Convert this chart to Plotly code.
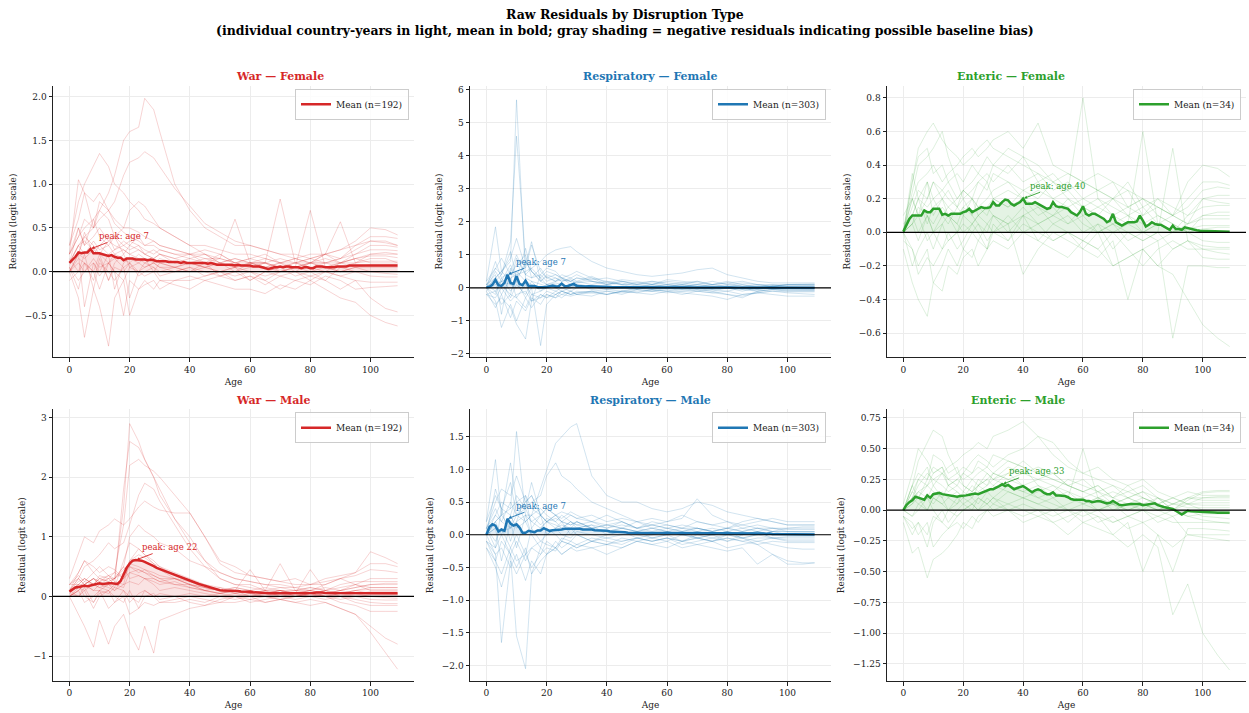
import numpy as np
import plotly.graph_objects as go

AGES = list(range(110))
# coarse age grid used for the individual (light) country-year curves
G = [0, 3, 5, 8, 10, 13, 15, 18, 20, 23, 25, 28, 30, 35, 40, 45, 50, 55, 60, 65, 70, 75, 80, 85, 90, 95, 100, 105, 109]

TYPES = ["War", "Respiratory", "Enteric"]
SEXES = ["Female", "Male"]
COLORS = {"War": (214, 39, 40), "Respiratory": (31, 119, 180), "Enteric": (44, 160, 44)}
LIGHT_ALPHA = {"War": 0.25, "Respiratory": 0.25, "Enteric": 0.2}
N_OBS = {"War": 192, "Respiratory": 303, "Enteric": 34}

X_TICKS = [0, 20, 40, 60, 80, 100]
Y_TICKS = {
    ("War", "Female"): [-0.5, 0.0, 0.5, 1.0, 1.5, 2.0],
    ("Respiratory", "Female"): [-2, -1, 0, 1, 2, 3, 4, 5, 6],
    ("Enteric", "Female"): [-0.6, -0.4, -0.2, 0.0, 0.2, 0.4, 0.6, 0.8],
    ("War", "Male"): [-1, 0, 1, 2, 3],
    ("Respiratory", "Male"): [-2.0, -1.5, -1.0, -0.5, 0.0, 0.5, 1.0, 1.5],
    ("Enteric", "Male"): [-1.25, -1.0, -0.75, -0.5, -0.25, 0.0, 0.25, 0.5, 0.75],
}
Y_FMT = {("War", "Female"): ".1f", ("Respiratory", "Female"): "d", ("Enteric", "Female"): ".1f",
         ("War", "Male"): "d", ("Respiratory", "Male"): ".1f", ("Enteric", "Male"): ".2f"}
Y_RANGE = {("War", "Female"): [-0.98, 2.125], ("Respiratory", "Female"): [-2.11, 6.13],
           ("Enteric", "Female"): [-0.745, 0.873], ("War", "Male"): [-1.42, 3.14],
           ("Respiratory", "Male"): [-2.24, 1.92], ("Enteric", "Male"): [-1.39, 0.82]}

# ---------------- mean curves (ages 0..109) ----------------
MEAN_WAR_F = [0.10, 0.13, 0.17, 0.22, 0.21, 0.22, 0.22, 0.26, 0.21, 0.21,
              0.21, 0.20, 0.19, 0.18, 0.19, 0.17, 0.16, 0.16, 0.13, 0.15,
              0.15, 0.15, 0.14, 0.14, 0.14, 0.14, 0.13, 0.14, 0.13, 0.12,
              0.12, 0.12, 0.12, 0.11, 0.11, 0.11, 0.11, 0.10, 0.11, 0.10,
              0.10, 0.10, 0.10, 0.10, 0.10, 0.10, 0.09, 0.10, 0.09, 0.08,
              0.08, 0.08, 0.08, 0.08, 0.08, 0.07, 0.08, 0.07, 0.07, 0.07,
              0.07, 0.06, 0.06, 0.06, 0.05, 0.04, 0.03, 0.04, 0.05, 0.05,
              0.06, 0.05, 0.06, 0.06, 0.05, 0.05, 0.05, 0.04, 0.05, 0.05,
              0.04, 0.04, 0.06, 0.06, 0.06, 0.05, 0.05, 0.05, 0.05, 0.06,
              0.06, 0.06, 0.06, 0.07, 0.07, 0.07, 0.07, 0.07, 0.07, 0.07,
              0.07, 0.07, 0.07, 0.07, 0.07, 0.07, 0.07, 0.07, 0.07, 0.07]
MEAN_RESP_F = [0.02, 0.03, 0.10, 0.24, 0.08, 0.06, 0.15, 0.40, 0.15, 0.12,
               0.35, 0.12, 0.08, 0.22, 0.06, 0.05, 0.06, 0.02, 0.01, 0.02,
               0.03, 0.05, 0.07, 0.04, 0.05, 0.13, 0.05, 0.06, 0.08, 0.12,
               0.06, 0.05, 0.05, 0.04, 0.05, 0.05, 0.04, 0.04, 0.03, 0.04,
               0.03, 0.03, 0.02, 0.03, 0.02, 0.02, 0.02, 0.02, 0.01, 0.02,
               0.02, 0.01, 0.02, 0.01, 0.01, 0.02, 0.01, 0.01, 0.01, 0.02,
               0.01, 0.01, 0.02, 0.01, 0.01, 0.01, 0.00, 0.01, 0.01, 0.01,
               0.01, 0.02, 0.01, 0.01, 0.01, 0.00, 0.01, 0.01, 0.01, 0.01,
               0.01, 0.01, 0.01, 0.00, 0.01, 0.01, 0.01, 0.01, 0.00, 0.01,
               0.01, 0.00, 0.01, 0.01, 0.00, 0.01, 0.01, 0.01, 0.01, 0.01,
               0.01, 0.01, 0.01, 0.01, 0.00, 0.00, 0.00, 0.00, 0.00, 0.00]
MEAN_ENT_F = [0.004, 0.04, 0.08, 0.10, 0.10, 0.10, 0.10, 0.13, 0.12, 0.12,
              0.14, 0.14, 0.14, 0.105, 0.11, 0.10, 0.11, 0.11, 0.11, 0.11,
              0.12, 0.125, 0.14, 0.12, 0.13, 0.14, 0.15, 0.145, 0.145, 0.15,
              0.18, 0.16, 0.16, 0.18, 0.195, 0.19, 0.17, 0.16, 0.17, 0.18,
              0.20, 0.17, 0.17, 0.17, 0.18, 0.17, 0.16, 0.15, 0.14, 0.145,
              0.18, 0.155, 0.15, 0.15, 0.145, 0.14, 0.12, 0.11, 0.10, 0.12,
              0.155, 0.11, 0.10, 0.11, 0.11, 0.10, 0.09, 0.08, 0.06, 0.07,
              0.11, 0.06, 0.05, 0.04, 0.05, 0.06, 0.06, 0.06, 0.065, 0.10,
              0.07, 0.035, 0.045, 0.06, 0.05, 0.045, 0.045, 0.035, 0.025, 0.015,
              0.04, 0.02, 0.02, 0.015, 0.03, 0.025, 0.018, 0.014, 0.012, 0.010,
              0.009, 0.008, 0.007, 0.006, 0.006, 0.005, 0.005, 0.004, 0.004, 0.004]
MEAN_WAR_M = [0.08, 0.12, 0.15, 0.16, 0.17, 0.18, 0.17, 0.18, 0.19, 0.21,
              0.22, 0.21, 0.22, 0.22, 0.22, 0.22, 0.21, 0.26, 0.37, 0.48,
              0.55, 0.60, 0.61, 0.61, 0.60, 0.58, 0.56, 0.53, 0.51, 0.48,
              0.46, 0.44, 0.42, 0.40, 0.38, 0.36, 0.34, 0.32, 0.30, 0.28,
              0.26, 0.245, 0.23, 0.21, 0.195, 0.18, 0.16, 0.145, 0.13, 0.12,
              0.105, 0.10, 0.10, 0.10, 0.095, 0.09, 0.09, 0.085, 0.085, 0.08,
              0.08, 0.07, 0.07, 0.065, 0.06, 0.06, 0.055, 0.05, 0.055, 0.055,
              0.055, 0.05, 0.05, 0.05, 0.055, 0.05, 0.05, 0.05, 0.055, 0.055,
              0.06, 0.06, 0.065, 0.07, 0.065, 0.06, 0.06, 0.06, 0.055, 0.055,
              0.05, 0.05, 0.055, 0.05, 0.055, 0.06, 0.055, 0.055, 0.055, 0.055,
              0.055, 0.055, 0.055, 0.055, 0.055, 0.055, 0.055, 0.055, 0.055, 0.055]
MEAN_RESP_M = [0.00, 0.12, 0.16, 0.14, 0.05, 0.08, 0.06, 0.245, 0.17, 0.14,
               0.16, 0.11, 0.03, 0.03, 0.06, 0.05, 0.04, 0.065, 0.065, 0.10,
               0.08, 0.06, 0.07, 0.07, 0.08, 0.08, 0.09, 0.09, 0.09, 0.09,
               0.10, 0.09, 0.08, 0.08, 0.09, 0.08, 0.07, 0.07, 0.07, 0.06,
               0.06, 0.05, 0.05, 0.05, 0.04, 0.05, 0.04, 0.03, 0.03, 0.03,
               0.02, 0.02, 0.02, 0.02, 0.02, 0.02, 0.02, 0.02, 0.02, 0.02,
               0.02, 0.02, 0.02, 0.02, 0.02, 0.02, 0.02, 0.02, 0.02, 0.02,
               0.02, 0.02, 0.02, 0.02, 0.02, 0.02, 0.02, 0.02, 0.02, 0.02,
               0.02, 0.02, 0.02, 0.02, 0.02, 0.02, 0.02, 0.02, 0.02, 0.02,
               0.02, 0.02, 0.02, 0.01, 0.02, 0.01, 0.01, 0.01, 0.01, 0.01,
               0.01, 0.01, 0.01, 0.01, 0.01, 0.01, 0.005, 0.005, 0.005, 0.005]
MEAN_ENT_M = [0.0, 0.04, 0.065, 0.08, 0.11, 0.10, 0.09, 0.085, 0.12, 0.10,
              0.13, 0.135, 0.14, 0.13, 0.125, 0.12, 0.12, 0.115, 0.11, 0.115,
              0.115, 0.12, 0.125, 0.13, 0.135, 0.13, 0.14, 0.155, 0.16, 0.17,
              0.17, 0.18, 0.195, 0.21, 0.195, 0.205, 0.19, 0.17, 0.18, 0.19,
              0.195, 0.18, 0.16, 0.145, 0.16, 0.17, 0.16, 0.14, 0.13, 0.13,
              0.145, 0.12, 0.12, 0.12, 0.115, 0.105, 0.09, 0.085, 0.085, 0.085,
              0.085, 0.075, 0.075, 0.065, 0.07, 0.075, 0.07, 0.065, 0.055, 0.06,
              0.075, 0.06, 0.045, 0.04, 0.045, 0.05, 0.05, 0.05, 0.05, 0.05,
              0.04, 0.045, 0.05, 0.055, 0.055, 0.04, 0.03, 0.025, 0.02, 0.015,
              0.01, -0.005, -0.02, -0.035, -0.02, -0.005, -0.01, -0.012, -0.014, -0.016,
              -0.017, -0.018, -0.019, -0.02, -0.02, -0.021, -0.021, -0.022, -0.022, -0.022]

# ---------------- individual country-year curves (values on grid G) ----------------
LINES_WAR_F = [
    [0.2, 0.4, 0.5, 0.6, 0.7, 0.9, 1.1, 1.5, 1.6, 1.65, 1.98, 1.85, 1.6, 1.0, 0.7, 0.5, 0.4, 0.3, 0.3, 0.25, 0.2, 0.2, 0.15, 0.2, 0.25, 0.3, 0.35, 0.35, 0.3],
    [0.3, 0.8, 1.0, 1.2, 1.35, 1.2, 1.0, 0.9, 0.8, 0.7, 0.6, 0.55, 0.5, 0.4, 0.3, 0.2, 0.15, 0.1, 0.1, 0.1, 0.05, 0.05, 0.1, 0.1, 0.1, 0.1, 0.15, 0.15, 0.1],
    [0.1, 0.3, 0.4, 0.5, 0.6, 0.7, 0.8, 1.1, 1.25, 1.3, 1.37, 1.3, 1.2, 0.95, 0.75, 0.55, 0.45, 0.35, 0.3, 0.25, 0.2, 0.15, 0.2, 0.2, 0.25, 0.35, 0.5, 0.48, 0.42],
    [0.2, 1.05, 0.9, 0.8, 0.9, 0.7, 0.6, 0.5, 0.5, 0.45, 0.4, 0.35, 0.3, 0.25, 0.2, 0.2, 0.1, 0.05, 0.1, 0.15, 0.1, 0.1, 0.05, 0.1, 0.15, 0.2, 0.3, 0.3, 0.28],
    [0.0, -0.3, -0.75, -0.2, -0.4, -0.85, -0.3, -0.1, -0.5, -0.2, -0.1, -0.2, -0.1, -0.15, -0.2, -0.1, -0.15, -0.2, -0.2, -0.25, -0.15, -0.2, -0.1, -0.2, -0.3, -0.35, -0.5, -0.58, -0.62],
    [0.1, 0.5, 0.3, 0.6, 0.4, 0.3, 0.4, 0.2, 0.3, 0.25, 0.2, 0.15, 0.2, 0.1, 0.15, 0.1, 0.2, 0.1, 0.05, 0.1, 0.83, 0.1, 0.15, 0.1, 0.05, 0.1, 0.2, 0.22, 0.2],
    [0.0, 0.2, 0.4, 0.3, 0.2, 0.35, 0.3, 0.25, 0.2, 0.15, 0.1, 0.15, 0.1, 0.05, 0.1, 0.05, 0.0, -0.05, 0.0, -0.1, 0.0, 0.05, 0.7, 0.05, 0.1, 0.15, 0.18, 0.18, 0.16],
    [0.15, 0.0, 0.2, -0.2, 0.1, 0.0, -0.1, 0.05, -0.3, 0.0, -0.05, 0.0, -0.1, -0.1, -0.05, -0.1, -0.05, -0.1, -0.05, -0.15, -0.05, -0.1, -0.15, -0.05, -0.1, -0.2, -0.18, -0.17, -0.16],
    [0.1, 0.3, 0.35, 0.25, 0.3, 0.2, 0.25, 0.3, 0.35, 0.3, 0.25, 0.2, 0.25, 0.2, 0.15, 0.2, 0.1, 0.15, 0.1, 0.05, 0.1, 0.0, 0.1, 0.2, 0.57, 0.1, 0.12, 0.12, 0.12],
    [0.05, -0.1, 0.0, 0.1, -0.05, 0.1, 0.0, -0.1, 0.05, 0.0, 0.1, 0.05, 0.0, 0.05, 0.0, 0.05, 0.0, 0.05, 0.0, -0.05, 0.0, 0.0, -0.05, 0.0, -0.05, -0.1, -0.3, -0.42, -0.46],
    [0.2, 0.4, 0.6, 0.5, 0.8, 0.7, 0.55, 0.45, 0.4, 0.35, 0.3, 0.3, 0.25, 0.2, 0.2, 0.15, 0.15, 0.6, 0.1, 0.1, 0.15, 0.1, 0.1, 0.15, 0.1, 0.2, 0.25, 0.25, 0.24],
    [0.0, 0.2, -0.4, 0.1, 0.0, 0.2, -0.2, 0.1, 0.15, 0.1, 0.05, 0.1, 0.05, 0.05, 0.0, 0.1, -0.05, 0.0, 0.1, 0.05, 0.0, 0.05, 0.0, 0.05, 0.0, 0.05, 0.05, 0.05, 0.05],
    [0.3, 0.6, 0.9, 0.5, 0.7, 0.6, 0.4, 0.5, 0.7, 0.8, 0.75, 0.6, 0.5, 0.4, 0.3, 0.3, 0.25, 0.2, 0.2, 0.15, 0.1, 0.15, 0.1, 0.1, 0.15, 0.25, 0.35, 0.33, 0.3],
    [-0.1, 0.0, 0.1, 0.0, -0.2, 0.1, 0.0, -0.5, -0.1, -0.2, -0.15, -0.1, -0.2, -0.1, -0.1, -0.05, 0.0, -0.1, -0.05, -0.1, -0.2, -0.1, -0.05, -0.1, -0.2, -0.1, -0.12, -0.12, -0.12],
    [0.1, 0.2, 0.15, 0.25, 0.2, 0.1, 0.2, 0.15, 0.1, 0.2, 0.15, 0.1, 0.15, 0.1, 0.1, 0.05, 0.1, 0.15, 0.1, 0.1, 0.05, 0.1, 0.05, 0.0, 0.1, 0.05, 0.0, -0.02, -0.03],
    [0.1, 0.3, 0.2, 0.35, 0.25, 0.3, 0.2, 0.25, 0.2, 0.25, 0.2, 0.15, 0.2, 0.15, 0.1, 0.15, 0.1, 0.05, 0.1, 0.05, 0.1, 0.05, 0.1, 0.05, 0.1, 0.15, 0.2, 0.2, 0.2],
    [0.0, 0.1, 0.0, 0.15, 0.05, 0.1, 0.15, 0.05, 0.1, 0.0, 0.05, 0.1, 0.05, 0.0, 0.05, 0.0, -0.05, 0.0, -0.1, 0.0, -0.05, 0.0, -0.1, 0.0, -0.05, 0.0, 0.0, 0.0, 0.0],
    [0.2, 0.5, 0.3, 0.4, 0.5, 0.35, 0.4, 0.3, 0.25, 0.3, 0.2, 0.25, 0.2, 0.15, 0.2, 0.1, 0.15, 0.1, 0.15, 0.1, 0.05, 0.1, 0.15, 0.2, 0.1, 0.15, 0.1, 0.1, 0.1],
    [0.05, -0.2, 0.1, -0.1, 0.15, -0.1, 0.05, 0.0, 0.1, -0.05, 0.0, 0.05, -0.05, 0.0, 0.05, -0.05, 0.0, 0.05, -0.1, 0.0, 0.05, -0.05, 0.0, -0.1, 0.05, 0.0, -0.05, -0.06, -0.06],
    [0.1, 0.2, 0.45, 0.2, 0.3, 0.4, 0.25, 0.35, 0.3, 0.4, 0.3, 0.35, 0.3, 0.25, 0.2, 0.25, 0.2, 0.1, 0.15, 0.2, 0.1, 0.15, 0.1, 0.2, 0.15, 0.3, 0.4, 0.4, 0.38],
    [0.0, 0.15, 0.1, 0.0, 0.2, -0.1, 0.1, 0.2, 0.05, 0.1, 0.15, 0.0, 0.1, 0.05, 0.1, 0.05, 0.1, 0.0, 0.05, 0.1, 0.0, 0.05, 0.1, 0.05, 0.0, 0.05, 0.08, 0.08, 0.08],
]
LINES_RESP_F = [
    [0.1, 0.3, 0.5, 0.8, 5.7, 0.3, 0.2, 0.1, 0.05, 0.1, 0.0, 0.05, 0.1, 0.05, 0.0, 0.05, 0.0, 0.05, 0.0, 0.05, 0.0, 0.0, 0.05, 0.0, 0.0, 0.05, 0.03, 0.03, 0.03],
    [0.0, 0.2, 0.4, 1.4, 4.6, 0.8, 0.5, 0.2, 0.1, 0.15, 0.1, 0.05, 0.1, 0.05, 0.05, 0.0, 0.05, 0.0, 0.0, 0.05, 0.0, 0.05, 0.0, 0.0, -0.05, 0.0, -0.02, -0.02, -0.02],
    [0.2, 1.85, 0.5, 0.9, 1.5, 0.6, 1.3, 0.5, 0.3, 0.4, 0.3, 0.2, 0.3, 0.2, 0.15, 0.1, 0.1, 0.05, 0.1, 0.05, 0.1, 0.05, 0.1, 0.05, 0.1, 0.05, 0.1, 0.12, 0.12],
    [0.0, 0.1, 0.2, 0.3, 0.4, 0.5, 0.6, 0.8, 1.0, 1.15, 1.2, 1.25, 1.1, 0.8, 0.6, 0.5, 0.4, 0.35, 0.4, 0.45, 0.55, 0.6, 0.4, 0.3, 0.2, 0.15, 0.15, 0.15, 0.15],
    [-0.2, -0.5, -0.3, -0.6, -1.1, -1.55, -0.4, -0.3, -0.2, -0.3, -0.2, -0.25, -0.2, -0.15, -0.1, -0.15, -0.1, -0.1, -0.05, -0.1, -0.1, -0.15, -0.1, -0.2, -0.15, -0.1, -0.15, -0.18, -0.2],
    [0.0, -0.2, 0.3, -0.1, 0.2, -0.3, 0.0, -1.75, -0.5, -0.2, -0.1, -0.2, -0.15, -0.1, -0.2, -0.1, -0.15, -0.05, -0.1, -0.15, -0.2, -0.25, -0.35, -0.2, -0.15, -0.2, -0.25, -0.25, -0.25],
    [0.1, 0.4, -0.8, 0.6, 0.2, 0.8, 0.5, 0.3, 0.1, 0.2, 0.3, 0.1, 0.2, 0.1, 0.2, 0.1, 0.0, 0.1, 0.05, 0.1, 0.2, 0.1, 0.15, 0.05, 0.0, 0.05, 0.1, 0.1, 0.1],
    [0.0, -0.4, -1.2, -0.5, -1.0, -0.3, -0.6, -0.2, -0.3, -0.1, -0.2, -0.1, -0.2, -0.1, -0.2, -0.1, -0.05, -0.1, 0.0, -0.05, 0.0, -0.05, -0.1, 0.0, -0.1, -0.05, -0.08, -0.08, -0.08],
    [0.2, 0.6, 0.4, 1.1, 0.3, 0.7, 1.4, 0.2, 0.4, 0.3, 0.2, 0.3, 0.4, 0.2, 0.1, 0.2, 0.1, 0.15, 0.1, 0.05, 0.1, 0.2, 0.1, 0.15, 0.1, 0.1, 0.08, 0.08, 0.08],
    [0.0, 0.3, 0.1, -0.2, 0.5, 0.2, -0.4, 0.4, 0.6, 0.5, 0.3, 0.4, 0.5, 0.3, 0.2, 0.1, 0.15, 0.1, 0.2, 0.15, 0.1, 0.05, 0.0, -0.1, 0.0, 0.05, 0.0, 0.0, 0.0],
    [0.1, 0.0, 0.2, 0.1, 0.0, 0.2, 0.1, 0.0, 0.1, 0.05, 0.1, 0.0, 0.05, 0.0, 0.05, 0.0, 0.05, 0.0, 0.0, 0.05, 0.0, -0.05, 0.0, 0.0, -0.05, 0.0, 0.0, 0.0, 0.0],
    [-0.1, 0.2, -0.2, 0.3, -0.3, 0.1, -0.2, -0.1, 0.0, -0.1, 0.0, -0.1, 0.0, 0.05, -0.05, 0.0, -0.05, 0.05, 0.0, -0.05, 0.0, 0.0, 0.05, 0.0, 0.05, 0.0, 0.02, 0.02, 0.02],
    [0.0, 0.8, 0.3, 0.5, 1.0, 0.4, 0.3, 0.6, 0.3, 0.2, 0.25, 0.2, 0.15, 0.3, 0.1, 0.2, 0.1, 0.2, 0.15, 0.1, 0.05, 0.1, 0.2, 0.1, 0.05, 0.1, 0.05, 0.05, 0.05],
    [-0.2, -0.1, -0.5, -0.2, -0.3, -0.6, -0.2, -0.3, -0.1, -0.2, -0.3, -0.1, -0.2, -0.25, -0.1, -0.2, -0.05, -0.1, -0.15, -0.1, -0.05, -0.1, -0.2, -0.3, -0.1, -0.05, -0.1, -0.1, -0.1],
    [0.1, 0.6, 0.9, 0.4, 0.7, 1.0, 0.3, 0.4, 0.2, 0.3, 0.2, 0.25, 0.15, 0.2, 0.1, 0.15, 0.05, 0.1, 0.05, 0.1, 0.05, 0.0, 0.05, 0.0, 0.05, 0.0, 0.02, 0.02, 0.02],
    [-0.1, -0.6, -0.2, -0.9, -0.4, -0.7, -0.3, -0.5, -0.2, -0.3, -0.1, -0.2, -0.15, -0.1, -0.05, -0.1, 0.0, -0.05, -0.1, 0.0, -0.05, -0.1, 0.0, -0.05, -0.1, -0.05, -0.05, -0.06, -0.06],
    [0.0, 0.3, 0.5, 0.2, 0.9, 0.4, 0.6, 0.3, 0.5, 0.4, 0.3, 0.2, 0.3, 0.25, 0.3, 0.2, 0.15, 0.2, 0.1, 0.15, 0.2, 0.1, 0.05, 0.1, 0.0, 0.05, 0.06, 0.06, 0.06],
    [0.1, -0.1, 0.2, -0.3, 0.1, -0.2, 0.2, -0.1, 0.1, 0.0, -0.1, 0.0, 0.1, -0.05, 0.0, 0.05, 0.0, -0.05, 0.05, 0.0, -0.1, 0.0, 0.05, -0.05, 0.0, 0.05, 0.0, 0.0, 0.0],
    [0.0, 0.5, 0.2, 0.7, 0.3, 1.2, 0.5, 0.2, 0.35, 0.2, 0.4, 0.3, 0.2, 0.35, 0.15, 0.25, 0.2, 0.1, 0.25, 0.2, 0.15, 0.1, 0.15, 0.2, 0.1, 0.05, 0.1, 0.1, 0.1],
    [-0.2, -0.3, 0.0, -0.4, -0.2, -0.1, -0.4, -0.2, -0.3, -0.2, -0.1, -0.2, -0.1, -0.15, -0.2, -0.1, -0.15, -0.2, -0.1, -0.2, -0.1, -0.15, -0.2, -0.25, -0.15, -0.1, -0.12, -0.12, -0.12],
]
LINES_ENT_F = [
    [0.0, 0.3, 0.5, 0.6, 0.65, 0.55, 0.5, 0.45, 0.4, 0.45, 0.5, 0.55, 0.5, 0.45, 0.4, 0.35, 0.3, 0.25, 0.3, 0.25, 0.2, 0.15, 0.2, 0.15, 0.1, 0.3, 0.4, 0.38, 0.33],
    [0.0, 0.2, 0.3, 0.35, 0.4, 0.3, 0.35, 0.4, 0.45, 0.5, 0.45, 0.5, 0.55, 0.6, 0.5, 0.65, 0.4, 0.35, 0.3, 0.35, 0.3, 0.25, 0.2, 0.15, 0.1, 0.15, 0.25, 0.27, 0.26],
    [-0.1, -0.3, -0.4, -0.5, -0.3, -0.35, -0.2, -0.25, -0.15, -0.1, -0.2, -0.1, -0.05, -0.1, 0.0, -0.05, -0.1, -0.15, -0.05, -0.1, -0.2, -0.15, -0.1, -0.2, -0.25, -0.4, -0.55, -0.63, -0.68],
    [0.05, 0.1, 0.2, 0.15, 0.2, 0.25, 0.3, 0.2, 0.25, 0.3, 0.35, 0.3, 0.4, 0.35, 0.45, 0.3, 0.35, 0.25, 0.8, 0.2, 0.15, 0.1, 0.05, 0.1, 0.05, 0.0, 0.1, 0.12, 0.12],
    [0.0, -0.2, -0.1, 0.0, -0.1, 0.05, -0.05, 0.0, 0.05, 0.0, -0.05, 0.05, 0.0, 0.05, -0.25, -0.1, 0.0, -0.05, -0.1, 0.0, -0.2, -0.15, -0.1, -0.05, -0.63, -0.2, -0.2, -0.21, -0.21],
    [0.0, 0.15, 0.25, 0.2, 0.3, 0.2, 0.15, 0.2, 0.25, 0.2, 0.15, 0.2, 0.25, 0.3, 0.2, 0.25, 0.2, 0.15, 0.2, 0.15, 0.1, 0.05, 0.6, 0.05, 0.0, 0.05, 0.2, 0.22, 0.22],
    [0.0, 0.05, 0.1, -0.05, 0.0, -0.1, -0.05, 0.0, 0.1, 0.05, 0.1, 0.15, 0.1, 0.05, 0.1, 0.05, 0.1, 0.15, 0.05, 0.0, 0.05, 0.0, -0.05, 0.0, 0.5, -0.05, -0.1, -0.12, -0.13],
    [0.1, 0.2, 0.1, 0.3, 0.2, 0.1, 0.15, 0.1, 0.15, 0.2, 0.1, 0.15, 0.2, 0.25, 0.2, 0.15, 0.1, 0.2, 0.15, 0.1, 0.2, 0.25, 0.1, 0.15, 0.1, 0.05, 0.08, 0.08, 0.08],
    [-0.05, -0.1, -0.2, -0.1, -0.3, -0.2, -0.1, -0.2, -0.1, -0.15, -0.05, -0.1, 0.0, -0.05, 0.05, 0.0, -0.05, 0.0, -0.1, -0.15, -0.05, -0.4, -0.1, -0.2, -0.1, -0.05, -0.15, -0.16, -0.16],
    [0.0, 0.35, 0.2, 0.3, 0.1, 0.2, 0.25, 0.15, 0.2, 0.1, 0.2, 0.3, 0.2, 0.15, 0.25, 0.2, 0.3, 0.2, 0.1, 0.15, 0.2, 0.1, 0.15, 0.05, 0.0, 0.1, 0.15, 0.16, 0.16],
    [0.0, 0.1, 0.0, 0.1, 0.05, 0.15, 0.1, 0.05, 0.0, 0.05, 0.1, 0.05, 0.1, 0.0, 0.1, 0.15, 0.05, 0.1, 0.0, 0.05, 0.0, 0.05, 0.0, -0.05, 0.0, 0.0, 0.02, 0.03, 0.03],
    [0.0, 0.25, 0.4, 0.45, 0.5, 0.6, 0.45, 0.3, 0.2, 0.25, 0.3, 0.35, 0.3, 0.4, 0.3, 0.35, 0.25, 0.3, 0.2, 0.25, 0.3, 0.15, 0.1, 0.2, 0.15, 0.1, 0.2, 0.18, 0.17],
    [0.0, 0.2, 0.1, 0.2, 0.3, 0.25, 0.2, 0.15, 0.25, 0.2, 0.3, 0.25, 0.35, 0.3, 0.25, 0.3, 0.2, 0.25, 0.15, 0.2, 0.1, 0.15, 0.2, 0.1, 0.05, 0.0, -0.05, -0.06, -0.06],
    [0.0, 0.05, 0.15, 0.1, 0.0, 0.1, 0.05, 0.15, 0.1, 0.2, 0.15, 0.1, 0.2, 0.15, 0.2, 0.1, 0.15, 0.05, 0.1, 0.0, 0.05, -0.05, 0.0, 0.05, 0.1, 0.05, 0.1, 0.1, 0.1],
    [0.0, -0.1, -0.25, -0.15, -0.2, -0.1, 0.0, -0.1, -0.05, 0.05, 0.0, -0.1, 0.05, -0.05, 0.1, -0.05, 0.05, 0.0, -0.05, -0.1, 0.0, -0.1, -0.2, -0.1, -0.05, -0.1, -0.1, -0.1, -0.1],
    [0.0, 0.3, 0.45, 0.5, 0.35, 0.4, 0.3, 0.35, 0.3, 0.4, 0.35, 0.45, 0.4, 0.5, 0.45, 0.4, 0.3, 0.35, 0.3, 0.25, 0.2, 0.3, 0.15, 0.2, 0.1, 0.2, 0.3, 0.3, 0.28],
    [0.0, 0.1, 0.2, 0.05, 0.15, 0.2, 0.1, 0.05, 0.15, 0.1, 0.05, 0.0, 0.1, 0.05, 0.15, 0.05, 0.1, 0.05, 0.15, 0.1, 0.05, 0.1, 0.0, 0.05, 0.0, 0.02, 0.04, 0.04, 0.04],
    [0.0, 0.05, -0.05, 0.1, 0.0, 0.05, 0.1, 0.0, -0.1, 0.0, 0.05, -0.05, 0.0, 0.1, 0.0, 0.05, -0.05, 0.0, -0.05, 0.05, -0.1, 0.0, -0.05, 0.0, -0.1, -0.05, -0.08, -0.09, -0.09],
]
LINES_WAR_M = [
    [0.1, 0.2, 0.3, 0.2, 0.3, 0.25, 0.3, 1.5, 2.9, 2.6, 2.3, 2.0, 1.8, 1.3, 0.9, 0.6, 0.4, 0.3, 0.25, 0.2, 0.15, 0.15, 0.2, 0.2, 0.3, 0.4, 0.75, 0.65, 0.55],
    [0.2, 0.3, 0.2, 0.3, 0.25, 0.3, 0.2, 1.8, 2.6, 2.5, 2.3, 2.0, 1.7, 1.3, 1.0, 0.6, 0.3, 0.2, 0.2, 0.1, 0.15, 0.1, 0.1, 0.15, 0.1, 0.2, 0.3, 0.3, 0.3],
    [0.1, 0.15, 0.2, 0.3, 0.2, 0.3, 0.4, 1.2, 2.2, 2.3, 2.2, 2.1, 2.0, 1.7, 1.4, 1.0, 0.6, 0.5, 0.35, 0.3, 0.25, 0.2, 0.2, 0.3, 0.35, 0.4, 0.55, 0.55, 0.5],
    [0.3, 0.7, 1.0, 0.9, 1.1, 1.2, 1.3, 1.2, 1.3, 1.5, 1.6, 1.5, 1.45, 1.4, 1.4, 1.0, 0.55, 0.4, 0.35, 0.3, 0.25, 0.3, 0.2, 0.25, 0.3, 0.35, 0.45, 0.43, 0.4],
    [0.1, 0.3, 0.5, 0.6, 0.7, 0.9, 0.8, 0.9, 1.2, 1.7, 1.9, 1.8, 1.6, 1.2, 0.8, 0.5, 0.3, 0.2, 0.15, 0.1, 0.1, 0.05, 0.1, 0.05, 0.1, 0.15, 0.2, 0.22, 0.22],
    [0.0, -0.3, -0.5, -0.85, -0.4, -0.8, -0.5, -0.3, -0.6, -0.9, -0.5, -0.95, -0.4, -0.3, -0.2, -0.15, -0.1, -0.1, -0.05, -0.1, -0.05, -0.1, -0.15, -0.1, -0.2, -0.3, -0.5, -0.7, -0.8],
    [0.1, 0.2, 0.0, -0.1, 0.1, -0.2, -0.1, 0.0, -0.3, -0.2, -0.1, -0.15, -0.1, -0.1, -0.05, -0.1, 0.0, -0.05, 0.0, -0.1, -0.05, -0.1, -0.05, -0.1, -0.2, -0.3, -0.6, -0.95, -1.22],
    [0.1, 0.4, 0.6, 0.5, 0.4, 0.5, 0.45, 0.3, 0.6, 0.8, 0.7, 0.6, 0.5, 0.35, 0.25, 0.15, 0.1, 0.05, 0.1, 0.05, 0.1, 0.05, 0.45, 0.1, 0.05, 0.1, 0.15, 0.15, 0.15],
    [0.2, 0.2, 0.3, 0.2, 0.35, 0.3, 0.3, 0.4, 0.5, 0.45, 0.4, 0.35, 0.3, 0.3, 0.25, 0.2, 0.15, 0.1, 0.45, 0.1, 0.55, 0.1, 0.15, 0.1, 0.2, 0.25, 0.25, 0.25, 0.25],
    [0.0, 0.1, 0.2, 0.1, 0.1, 0.2, 0.1, 0.2, 0.25, 0.2, 0.3, 0.2, 0.1, 0.15, 0.1, 0.05, 0.0, 0.05, 0.0, 0.05, 0.0, 0.05, 0.0, 0.05, 0.0, 0.05, 0.0, -0.02, -0.03],
    [0.1, 0.0, 0.1, -0.2, 0.0, 0.1, -0.1, 0.1, 0.0, -0.1, 0.1, 0.0, -0.1, -0.05, 0.0, -0.05, -0.1, 0.0, -0.05, 0.0, -0.05, 0.0, 0.05, 0.0, -0.1, -0.15, -0.25, -0.25, -0.25],
    [0.2, 0.4, 0.6, 0.4, 0.5, 0.35, 0.4, 0.3, 0.5, 0.4, 0.45, 0.35, 0.3, 0.2, 0.2, 0.15, 0.1, 0.15, 0.1, 0.15, 0.1, 0.1, 0.15, 0.1, 0.15, 0.2, 0.1, 0.1, 0.1],
    [0.1, 0.2, 0.2, 0.3, 0.2, 0.2, 0.3, 0.5, 1.0, 1.2, 1.1, 1.0, 0.9, 0.8, 0.6, 0.5, 0.4, 0.3, 0.25, 0.2, 0.2, 0.15, 0.1, 0.2, 0.3, 0.2, 0.15, 0.15, 0.15],
    [0.0, 0.1, -0.1, 0.0, 0.1, 0.05, 0.15, 0.1, -0.1, 0.05, 0.1, 0.0, 0.05, 0.0, 0.05, 0.0, 0.05, 0.1, 0.05, 0.0, 0.05, 0.0, 0.05, 0.1, 0.0, -0.05, -0.1, -0.12, -0.12],
    [0.1, 0.15, 0.25, 0.2, 0.15, 0.2, 0.15, 0.6, 0.9, 0.8, 0.7, 0.55, 0.5, 0.4, 0.3, 0.2, 0.1, 0.1, 0.05, 0.1, 0.05, 0.1, 0.05, 0.1, 0.05, 0.1, 0.05, 0.05, 0.05],
    [0.1, 0.25, 0.3, 0.2, 0.3, 0.25, 0.3, 0.45, 0.55, 0.5, 0.45, 0.4, 0.35, 0.3, 0.2, 0.15, 0.1, 0.15, 0.1, 0.05, 0.1, 0.05, 0.1, 0.05, 0.1, 0.15, 0.2, 0.2, 0.2],
    [0.0, 0.1, 0.2, 0.1, 0.2, 0.15, 0.1, 0.3, 0.4, 0.35, 0.3, 0.25, 0.2, 0.25, 0.15, 0.1, 0.05, 0.0, 0.05, 0.0, -0.05, 0.0, 0.05, 0.0, -0.05, 0.0, -0.05, -0.06, -0.06],
    [0.2, 0.35, 0.25, 0.4, 0.3, 0.35, 0.25, 0.2, 0.6, 0.7, 0.65, 0.55, 0.45, 0.3, 0.2, 0.1, 0.05, 0.1, 0.05, 0.1, 0.0, 0.05, 0.1, 0.0, 0.05, 0.1, 0.12, 0.12, 0.12],
    [0.05, 0.0, 0.15, -0.1, 0.05, 0.1, 0.0, -0.1, 0.1, -0.2, 0.0, 0.05, -0.05, 0.0, -0.1, -0.15, -0.05, 0.0, -0.1, -0.05, 0.0, -0.05, 0.0, -0.05, 0.0, -0.1, -0.15, -0.15, -0.15],
    [0.1, 0.3, 0.2, 0.3, 0.25, 0.35, 0.3, 0.5, 0.3, 0.35, 0.3, 0.3, 0.25, 0.3, 0.2, 0.1, 0.15, 0.05, 0.1, 0.05, 0.1, 0.05, 0.0, 0.05, 0.1, 0.05, 0.08, 0.08, 0.08],
    [0.0, 0.15, 0.1, 0.2, 0.15, 0.1, 0.2, 0.15, 0.4, 0.45, 0.4, 0.3, 0.25, 0.2, 0.15, 0.1, 0.05, 0.1, 0.0, 0.05, 0.1, 0.0, 0.05, 0.0, 0.05, 0.0, 0.03, 0.03, 0.03],
]
LINES_RESP_M = [
    [0.0, 0.1, 0.05, 0.1, 0.2, 0.3, 0.3, 0.7, 1.0, 1.4, 1.5, 1.65, 1.7, 0.9, 0.6, 0.5, 0.5, 0.4, 0.35, 0.4, 0.5, 0.45, 0.35, 0.3, 0.25, 0.2, 0.15, 0.15, 0.15],
    [0.0, 0.2, 0.3, 0.4, 0.5, 0.4, 0.5, 0.6, 0.9, 1.1, 0.9, 0.8, 0.7, 0.5, 0.4, 0.3, 0.2, 0.25, 0.2, 0.3, 0.2, 0.15, 0.2, 0.1, 0.15, 0.1, 0.1, 0.1, 0.1],
    [0.1, 0.3, 0.5, 0.4, 1.58, 0.3, 0.2, 0.1, 0.2, 0.1, 0.15, 0.1, 0.2, 0.1, 0.05, 0.1, 0.05, 0.1, 0.05, 0.0, 0.05, 0.0, 0.05, 0.0, 0.05, 0.1, 0.05, 0.05, 0.05],
    [0.2, 1.15, 0.3, 1.1, 0.5, 0.6, 0.4, 0.3, 0.2, 0.3, 0.2, 0.15, 0.2, 0.1, 0.15, 0.1, 0.2, 0.1, 0.15, 0.1, 0.1, 0.05, 0.1, 0.05, 0.1, 0.05, 0.1, 0.12, 0.12],
    [0.0, -0.3, -1.65, -0.4, -0.6, -0.3, -0.2, -0.1, -0.15, -0.2, -0.1, -0.15, -0.2, -0.1, -0.15, -0.1, -0.05, -0.1, -0.05, -0.1, -0.05, -0.1, -0.05, -0.1, -0.05, -0.05, -0.05, -0.05, -0.05],
    [-0.2, -0.5, -0.8, -0.3, -1.55, -2.05, -0.6, -0.4, -0.3, -0.2, -0.3, -0.2, -0.25, -0.2, -0.15, -0.2, -0.1, -0.15, -0.1, -0.2, -0.15, -0.2, -0.25, -0.2, -0.45, -0.3, -0.4, -0.43, -0.43],
    [0.1, 0.5, 0.7, 0.6, 0.9, 0.5, 0.6, 0.3, 0.4, 0.3, 0.35, 0.3, 0.25, 0.3, 0.2, 0.25, 0.2, 0.15, 0.2, 0.25, 0.55, 0.3, 0.2, 0.15, 0.2, 0.25, 0.2, 0.2, 0.2],
    [-0.1, -0.3, -0.2, -0.5, -0.3, -0.7, -0.4, -0.6, -0.3, -0.2, -0.3, -0.2, -0.15, -0.2, -0.3, -0.2, -0.1, -0.15, -0.2, -0.1, -0.15, -0.1, -0.2, -0.15, -0.1, -0.15, -0.2, -0.22, -0.22],
    [0.0, 0.2, 0.0, 0.3, 0.1, 0.2, 0.0, 0.1, 0.2, 0.15, 0.1, 0.2, 0.15, 0.1, 0.05, 0.1, 0.05, 0.0, 0.05, 0.1, 0.05, 0.0, 0.05, 0.1, 0.05, 0.0, 0.02, 0.02, 0.02],
    [0.1, -0.2, 0.4, -0.1, 0.2, 0.6, 0.1, 0.3, 0.0, 0.1, 0.2, 0.0, 0.1, 0.15, 0.0, 0.05, -0.05, 0.0, 0.05, 0.0, -0.05, 0.0, -0.1, 0.0, 0.05, -0.05, -0.1, -0.1, -0.1],
    [0.0, 0.1, -0.4, 0.2, -0.2, 0.3, 0.0, -0.2, 0.1, 0.0, -0.1, 0.1, 0.0, -0.1, 0.0, 0.05, 0.0, -0.05, 0.0, -0.1, 0.0, -0.05, 0.0, -0.05, 0.0, 0.05, 0.0, 0.0, 0.0],
    [0.2, 0.6, 0.4, 0.8, 0.3, 0.5, 0.6, 0.3, 0.2, 0.3, 0.25, 0.35, 0.3, 0.2, 0.3, 0.2, 0.1, 0.2, 0.15, 0.1, 0.2, 0.15, 0.1, 0.2, 0.25, 0.2, 0.15, 0.15, 0.15],
    [-0.2, -0.4, -0.1, -0.3, -0.5, -0.2, -0.6, -0.2, -0.3, -0.1, -0.2, -0.1, 0.0, -0.1, -0.05, -0.1, -0.05, -0.1, -0.05, -0.1, -0.05, -0.1, -0.05, -0.1, -0.15, -0.3, -0.45, -0.45, -0.43],
    [0.0, 0.3, 0.2, 0.1, 0.3, 0.2, 0.3, 0.4, 0.3, 0.2, 0.1, 0.2, 0.1, 0.15, 0.1, 0.2, 0.1, 0.15, 0.1, 0.05, 0.1, 0.05, 0.0, 0.05, 0.1, 0.05, 0.05, 0.05, 0.05],
    [0.1, 0.4, 0.2, 0.5, 0.3, 0.4, 0.2, 0.3, 0.2, 0.25, 0.2, 0.15, 0.2, 0.1, 0.15, 0.1, 0.05, 0.1, 0.05, 0.0, 0.05, 0.1, 0.05, 0.0, 0.05, 0.0, 0.02, 0.02, 0.02],
    [-0.1, -0.4, -0.6, -0.2, -0.4, -0.3, -0.5, -0.3, -0.2, -0.25, -0.1, -0.15, -0.2, -0.1, -0.15, -0.05, -0.1, -0.05, -0.1, 0.0, -0.05, -0.1, 0.0, -0.05, -0.1, -0.05, -0.08, -0.08, -0.08],
    [0.0, 0.2, 0.3, 0.1, 0.5, 0.2, 0.3, 0.15, 0.25, 0.2, 0.3, 0.2, 0.15, 0.2, 0.1, 0.15, 0.1, 0.05, 0.1, 0.05, 0.1, 0.05, 0.1, 0.05, 0.0, 0.05, 0.04, 0.04, 0.04],
    [0.1, -0.1, 0.1, -0.2, 0.0, -0.3, 0.1, -0.1, 0.0, 0.1, 0.0, -0.05, 0.05, 0.0, -0.05, 0.0, 0.05, -0.05, 0.0, 0.05, -0.05, 0.0, 0.05, -0.05, 0.0, -0.05, -0.03, -0.03, -0.03],
    [0.0, 0.7, 0.4, 0.3, 0.6, 0.4, 0.8, 0.3, 0.4, 0.3, 0.2, 0.3, 0.25, 0.2, 0.15, 0.2, 0.1, 0.15, 0.1, 0.15, 0.1, 0.05, 0.1, 0.15, 0.1, 0.1, 0.08, 0.08, 0.08],
    [-0.1, -0.2, 0.0, -0.3, -0.1, -0.4, -0.2, -0.3, -0.1, -0.2, -0.05, -0.1, -0.15, -0.05, -0.1, -0.15, -0.05, -0.1, -0.05, -0.15, -0.1, -0.05, -0.1, -0.05, -0.15, -0.1, -0.12, -0.12, -0.12],
]
LINES_ENT_M = [
    [0.0, 0.2, 0.4, 0.55, 0.65, 0.6, 0.45, 0.3, 0.25, 0.3, 0.35, 0.3, 0.25, 0.3, 0.4, 0.3, 0.25, 0.2, 0.15, 0.2, 0.1, 0.05, 0.1, 0.05, 0.0, 0.1, 0.15, 0.16, 0.16],
    [0.0, 0.1, 0.2, 0.3, 0.25, 0.3, 0.35, 0.4, 0.45, 0.5, 0.55, 0.5, 0.6, 0.65, 0.72, 0.6, 0.45, 0.35, 0.3, 0.25, 0.2, 0.15, 0.2, 0.1, 0.05, 0.1, 0.1, 0.11, 0.11],
    [-0.1, -0.35, -0.3, -0.55, -0.4, -0.35, -0.3, -0.2, -0.1, -0.15, -0.05, 0.0, 0.05, 0.0, -0.05, 0.0, -0.1, -0.2, -0.1, -0.15, -0.2, -0.3, -0.2, -0.3, -0.85, -0.6, -1.0, -1.18, -1.3],
    [0.0, 0.1, 0.05, 0.1, 0.0, -0.1, -0.15, -0.05, 0.0, 0.05, 0.1, 0.05, 0.1, 0.2, 0.15, 0.1, 0.05, 0.0, -0.1, -0.05, -0.2, -0.1, -0.5, -0.2, -0.3, -0.2, -0.22, -0.24, -0.25],
    [0.05, 0.3, 0.5, 0.4, 0.3, 0.35, 0.2, 0.25, 0.3, 0.4, 0.45, 0.4, 0.35, 0.45, 0.5, 0.6, 0.55, 0.4, 0.3, 0.35, 0.25, 0.2, 0.25, 0.15, 0.1, 0.15, 0.12, 0.12, 0.12],
    [0.0, 0.1, 0.15, 0.2, 0.15, 0.1, 0.2, 0.15, 0.1, 0.15, 0.2, 0.25, 0.2, 0.15, 0.1, 0.15, 0.2, 0.1, 0.5, 0.1, 0.05, 0.1, 0.05, 0.0, 0.05, 0.05, 0.06, 0.06, 0.06],
    [-0.05, -0.1, -0.2, -0.1, -0.3, -0.2, -0.15, -0.1, -0.15, -0.05, -0.1, 0.0, -0.05, 0.0, -0.1, -0.05, 0.0, -0.1, 0.0, -0.05, -0.1, -0.05, -0.1, -0.2, -0.5, -0.15, -0.15, -0.16, -0.17],
    [0.0, 0.05, 0.1, 0.0, 0.1, 0.05, 0.1, 0.05, 0.15, 0.1, 0.05, 0.15, 0.1, 0.05, 0.1, 0.05, 0.0, 0.05, 0.1, 0.0, 0.05, 0.0, 0.05, 0.0, -0.05, 0.0, -0.05, -0.06, -0.07],
    [0.0, 0.15, 0.25, 0.35, 0.2, 0.3, 0.25, 0.2, 0.3, 0.25, 0.3, 0.35, 0.3, 0.25, 0.2, 0.25, 0.3, 0.2, 0.15, 0.1, 0.15, 0.1, 0.15, 0.1, 0.05, 0.1, 0.08, 0.08, 0.08],
    [0.0, -0.05, 0.0, 0.1, 0.2, 0.1, 0.0, 0.1, 0.05, 0.1, 0.2, 0.15, 0.2, 0.3, 0.2, 0.1, 0.15, 0.1, 0.05, 0.1, 0.0, 0.05, 0.0, 0.1, 0.0, -0.05, -0.03, -0.03, -0.03],
    [0.0, 0.2, 0.1, 0.25, 0.45, 0.4, 0.3, 0.35, 0.2, 0.15, 0.25, 0.2, 0.3, 0.4, 0.35, 0.2, 0.15, 0.25, 0.2, 0.15, 0.1, 0.2, 0.1, 0.05, 0.1, 0.05, 0.0, -0.01, -0.02],
    [-0.05, -0.2, -0.1, -0.3, -0.1, 0.0, -0.1, 0.0, 0.05, 0.0, 0.1, 0.05, 0.0, 0.05, 0.0, -0.05, -0.1, -0.05, 0.0, -0.1, -0.05, -0.15, -0.1, -0.05, -0.1, -0.1, -0.1, -0.1, -0.1],
    [0.0, 0.15, 0.1, 0.2, 0.25, 0.2, 0.15, 0.2, 0.15, 0.25, 0.2, 0.3, 0.25, 0.35, 0.3, 0.25, 0.2, 0.15, 0.1, 0.15, 0.05, 0.1, 0.05, 0.1, 0.0, 0.05, 0.04, 0.04, 0.04],
    [0.0, -0.05, 0.05, 0.0, 0.1, 0.05, 0.0, 0.05, 0.1, 0.05, 0.0, 0.1, 0.05, 0.15, 0.1, 0.05, 0.1, 0.0, 0.05, 0.0, 0.05, -0.05, 0.0, -0.05, 0.0, -0.05, -0.08, -0.1, -0.11],
    [0.0, 0.1, 0.25, 0.2, 0.3, 0.35, 0.25, 0.3, 0.35, 0.3, 0.4, 0.35, 0.45, 0.4, 0.35, 0.3, 0.25, 0.2, 0.25, 0.15, 0.2, 0.1, 0.15, 0.05, 0.1, 0.05, 0.1, 0.1, 0.1],
    [-0.05, -0.15, -0.1, -0.2, -0.05, -0.1, 0.0, -0.05, 0.0, 0.05, 0.0, 0.05, 0.1, 0.0, 0.05, 0.0, -0.05, 0.0, -0.05, 0.0, -0.1, -0.05, 0.0, -0.1, -0.05, -0.2, -0.2, -0.2, -0.2],
    [0.0, 0.05, 0.15, 0.1, 0.05, 0.15, 0.1, 0.15, 0.1, 0.2, 0.15, 0.2, 0.25, 0.2, 0.15, 0.2, 0.1, 0.15, 0.05, 0.1, 0.05, 0.0, 0.05, 0.0, 0.05, 0.02, 0.02, 0.02, 0.02],
    [0.0, 0.2, 0.3, 0.25, 0.35, 0.3, 0.2, 0.25, 0.2, 0.15, 0.2, 0.25, 0.3, 0.25, 0.3, 0.35, 0.3, 0.2, 0.15, 0.2, 0.1, 0.15, 0.1, 0.05, 0.0, 0.08, 0.14, 0.15, 0.15],
]

PANELS = [
    ("War", "Female", MEAN_WAR_F, LINES_WAR_F),
    ("Respiratory", "Female", MEAN_RESP_F, LINES_RESP_F),
    ("Enteric", "Female", MEAN_ENT_F, LINES_ENT_F),
    ("War", "Male", MEAN_WAR_M, LINES_WAR_M),
    ("Respiratory", "Male", MEAN_RESP_M, LINES_RESP_M),
    ("Enteric", "Male", MEAN_ENT_M, LINES_ENT_M),
]

for t, s, m, ls in PANELS:
    assert len(m) == len(AGES), (t, s, len(m))
    for k, l in enumerate(ls):
        assert len(l) == len(G), (t, s, k, len(l))

FONT = "DejaVu Serif"
W, H = 1249, 713
COL_X = [(53, 414), (470, 831), (887, 1246)]
ROW_Y = [(85, 358), (410, 683)]


def rgba(c, a):
    return f"rgba({c[0]},{c[1]},{c[2]},{a})"


fig = go.Figure()
layout = {}
annotations = []
shapes = []

for i, (typ, sex, mean, lines) in enumerate(PANELS):
    r, c = divmod(i, 3)
    n = i + 1
    xa = "x" if n == 1 else f"x{n}"
    ya = "y" if n == 1 else f"y{n}"
    leg = "legend" if n == 1 else f"legend{n}"
    col = COLORS[typ]
    x0, x1 = COL_X[c]
    yt, yb = ROW_Y[r]
    xd = [x0 / W, x1 / W]
    yd = [1 - yb / H, 1 - yt / H]

    for l in lines:
        fig.add_trace(go.Scatter(x=G, y=l, mode="lines", xaxis=xa, yaxis=ya,
                                 line=dict(color=rgba(col, LIGHT_ALPHA[typ]), width=0.8),
                                 showlegend=False, hoverinfo="skip"))
    m = np.array(mean, dtype=float)
    pos = np.maximum(m, 0)
    neg = np.minimum(m, 0)
    fig.add_trace(go.Scatter(x=AGES, y=pos, mode="lines", xaxis=xa, yaxis=ya, fill="tozeroy",
                             fillcolor=rgba(col, 0.13), line=dict(width=0), showlegend=False,
                             hoverinfo="skip"))
    fig.add_trace(go.Scatter(x=AGES, y=neg, mode="lines", xaxis=xa, yaxis=ya, fill="tozeroy",
                             fillcolor="rgba(128,128,128,0.3)", line=dict(width=0), showlegend=False,
                             hoverinfo="skip"))
    fig.add_trace(go.Scatter(x=AGES, y=mean, mode="lines", xaxis=xa, yaxis=ya,
                             line=dict(color=rgba(col, 1), width=2.5),
                             name=f"Mean (n={N_OBS[typ]})", legend=leg, showlegend=True))

    shapes.append(dict(type="line", xref=f"{xa} domain", yref=ya, x0=0, x1=1, y0=0, y1=0,
                       line=dict(color="black", width=1.2), layer="above"))

    pk = int(np.argmax(m))
    annotations.append(dict(x=AGES[pk], y=mean[pk], xref=xa, yref=ya, text=f"peak: age {AGES[pk]}",
                            showarrow=True, ax=34, ay=-13, axref="pixel", ayref="pixel",
                            arrowhead=2, arrowsize=0.7, arrowwidth=0.9, arrowcolor=rgba(col, 1),
                            standoff=1, font=dict(family=FONT, size=8.5, color=rgba(col, 1))))
    annotations.append(dict(x=(xd[0] + xd[1]) / 2, y=1 - (yt - 9) / H, xref="paper", yref="paper",
                            text=f"<b>{typ} — {sex}</b>", showarrow=False, yanchor="middle",
                            font=dict(family=FONT, size=11, color=rgba(col, 1))))

    axis_common = dict(showline=True, linecolor="#222", linewidth=1, ticks="outside", ticklen=3.5,
                       tickwidth=0.8, tickcolor="#222", showgrid=True, gridcolor="#ececec",
                       gridwidth=0.8, zeroline=False, tickfont=dict(family=FONT, size=9, color="#222"),
                       mirror=False)
    layout["xaxis" if n == 1 else f"xaxis{n}"] = dict(
        domain=xd, anchor=ya, range=[-5.45, 114.45], tickvals=X_TICKS,
        title=dict(text="Age", font=dict(family=FONT, size=9, color="#222"), standoff=4),
        **axis_common)
    layout["yaxis" if n == 1 else f"yaxis{n}"] = dict(
        domain=yd, anchor=xa, range=Y_RANGE[(typ, sex)], tickvals=Y_TICKS[(typ, sex)],
        tickformat=Y_FMT[(typ, sex)],
        title=dict(text="Residual (logit scale)", font=dict(family=FONT, size=9, color="#222"), standoff=6),
        **axis_common)
    layout[leg] = dict(x=xd[1] - 5 / W, y=yd[1] - 3 / H, xanchor="right", yanchor="top",
                       xref="paper", yref="paper", bgcolor="rgba(255,255,255,0.85)",
                       bordercolor="#cccccc", borderwidth=1, itemwidth=30,
                       font=dict(family=FONT, size=9, color="#222"))

annotations.append(dict(x=0.5, y=1 - 22 / H, xref="paper", yref="paper", showarrow=False,
                        text="<b>Raw Residuals by Disruption Type</b><br><b>(individual country-years in light, mean in bold; gray shading = negative residuals indicating possible baseline bias)</b>",
                        yanchor="middle", font=dict(family=FONT, size=12.5, color="black")))

fig.update_layout(**layout)
fig.update_layout(width=W, height=H, margin=dict(l=0, r=0, t=0, b=0), plot_bgcolor="white",
                  paper_bgcolor="white", annotations=annotations, shapes=shapes,
                  font=dict(family=FONT, color="#222"))

fig.write_html("out.html", config={"displayModeBar": False},
               post_script="document.body.style.margin='0';")
